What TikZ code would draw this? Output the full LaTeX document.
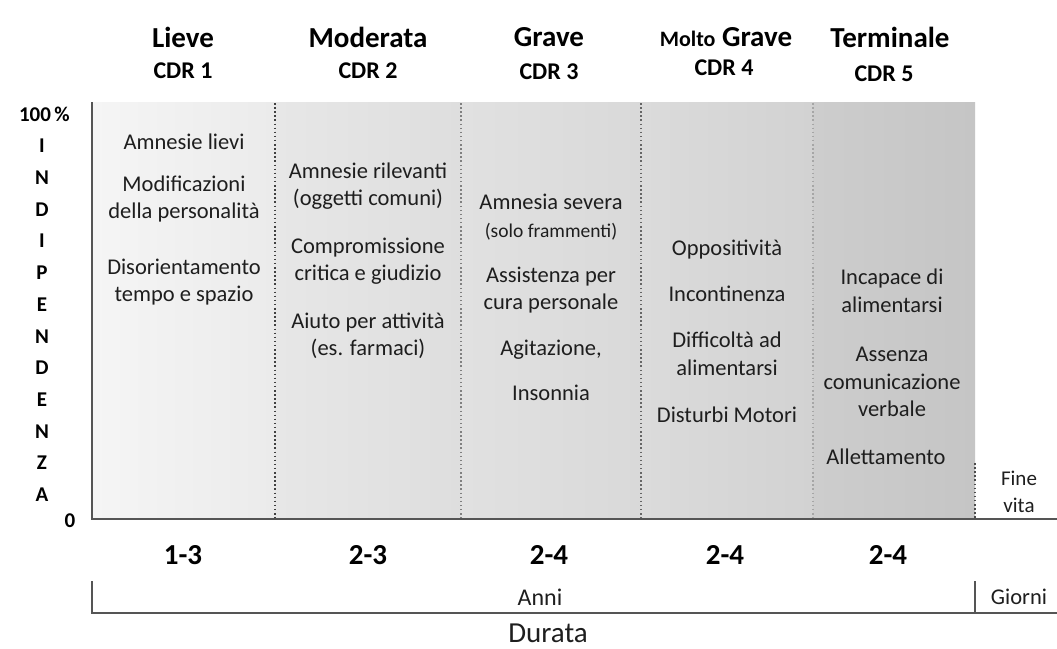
\documentclass[tikz,border=0pt]{standalone}
\usepackage{fontspec}
\setmainfont{Carlito}
\usepackage{tikz}

\definecolor{axisgray}{HTML}{555555}
\definecolor{inkgray}{HTML}{1E1E1E}
\definecolor{fillAl}{HTML}{F5F5F5}
\definecolor{fillAr}{HTML}{EBEBEB}
\definecolor{fillBl}{HTML}{E7E7E7}
\definecolor{fillBr}{HTML}{DEDEDE}
\definecolor{fillCl}{HTML}{E1E1E1}
\definecolor{fillCr}{HTML}{D9D9D9}
\definecolor{fillDl}{HTML}{DBDBDB}
\definecolor{fillDr}{HTML}{D2D2D2}
\definecolor{fillEl}{HTML}{CDCDCD}
\definecolor{fillEr}{HTML}{C5C5C5}

\tikzset{
  symptom/.style={align=center, inner sep=0pt, text=inkgray,
    font=\fontsize{22.5}{27.5}\selectfont},
  stagename/.style={inner sep=0pt, text=black, font=\bfseries\fontsize{29}{32}\selectfont},
  cdrlabel/.style={inner sep=0pt, text=black, font=\bfseries\fontsize{24}{26}\selectfont},
  yearlabel/.style={inner sep=0pt, text=black, font=\bfseries\fontsize{29}{32}\selectfont},
  axisletter/.style={inner sep=0pt, text=black, font=\bfseries\fontsize{21}{22}\selectfont},
  divider/.style={line width=1.5pt, dash pattern=on 1.5pt off 2.6pt}
}

\begin{document}
\begin{tikzpicture}[x=1pt,y=-1pt]
\useasboundingbox[fill=white] (0,0) rectangle (1057,648);

% stages
\shade[left color=fillAl, right color=fillAr] (92,102) rectangle (275,519);
\shade[left color=fillBl, right color=fillBr] (275,102) rectangle (461,519);
\shade[left color=fillCl, right color=fillCr] (461,102) rectangle (641,519);
\shade[left color=fillDl, right color=fillDr] (641,102) rectangle (813,519);
\shade[left color=fillEl, right color=fillEr] (813,102) rectangle (975,519);

\draw[divider, color=black!75] (275,103) -- (275,518);
\draw[divider, color=black!50] (461,103) -- (461,518);
\draw[divider, color=black!60] (641,103) -- (641,518);
\draw[divider, color=black!35] (813,103) -- (813,518);
\draw[divider, color=black!70] (975,463) -- (975,518);

% axes
\draw[axisgray, line width=1.5pt] (92,102) -- (92,519) -- (1057,519);

% headings
\node[stagename] (lieve) at (183,37) {Lieve};
\node[cdrlabel] (cdr1) at (183,71) {CDR 1};
\node[stagename] (moderata) at (368,37) {Moderata};
\node[cdrlabel] (cdr2) at (368,71) {CDR 2};
\node[stagename] (grave) at (549,37) {Grave};
\node[cdrlabel] (cdr3) at (549,72) {CDR 3};
\node[stagename] (moltograve) at (726,37) {{\fontsize{22}{24}\selectfont Molto} Grave};
\node[cdrlabel] (cdr4) at (724,68) {CDR 4};
\node[stagename] (terminale) at (890,37) {Terminale};
\node[cdrlabel] (cdr5) at (884,74) {CDR 5};

% vertical axis
\node[axisletter, anchor=east] (top) at (70,114) {100\,\%};
\foreach \l [count=\i] in {I,N,D,I,P,E,N,D,E,N,Z,A}
  \node[axisletter] (l\i) at (42,{146+(\i-1)*31.7}) {\l};
\node[axisletter] (zero) at (70,521) {0};

% symptoms
\node[symptom] (s11) at (184,142) {Amnesie lievi};
\node[symptom] (s12) at (184,199) {Modificazioni\\della personalità};
\node[symptom] (s13) at (184,282) {Disorientamento\\tempo e spazio};

\node[symptom] (s21) at (368,186) {Amnesie rilevanti\\(oggetti comuni)};
\node[symptom] (s22) at (368,261) {Compromissione\\critica e giudizio};
\node[symptom] (s23) at (368,336) {Aiuto per attività\\(es. farmaci)};

\node[symptom] (s31) at (551,202) {Amnesia severa};
\node[symptom, font=\fontsize{19.5}{22}\selectfont] (s32) at (551,232) {(solo frammenti)};
\node[symptom] (s33) at (551,290) {Assistenza per\\cura personale};
\node[symptom] (s34) at (551,350) {Agitazione,};
\node[symptom] (s35) at (551,393) {Insonnia};

\node[symptom] (s41) at (727,250) {Oppositività};
\node[symptom] (s42) at (727,294) {Incontinenza};
\node[symptom] (s43) at (727,354) {Difficoltà ad\\alimentarsi};
\node[symptom] (s44) at (727,415) {Disturbi Motori};

\node[symptom] (s51) at (892,291) {Incapace di\\alimentarsi};
\node[symptom] (s52) at (892,382) {Assenza\\comunicazione\\verbale};
\node[symptom] (s53) at (886,457) {Allettamento};

\node[symptom, font=\fontsize{21}{27}\selectfont] (finevita) at (1019,492) {Fine\\vita};

% duration
\node[yearlabel] (y1) at (183,555) {1-3};
\node[yearlabel] (y2) at (368,555) {2-3};
\node[yearlabel] (y3) at (549,555) {2-4};
\node[yearlabel] (y4) at (725,555) {2-4};
\node[yearlabel] (y5) at (888,555) {2-4};

\draw[axisgray, line width=1.5pt] (92,581) -- (92,613) -- (1057,613);
\draw[axisgray, line width=1.5pt] (975,581) -- (975,613);
\node[symptom, font=\fontsize{24}{28}\selectfont] (anni) at (540,597) {Anni};
\node[symptom] (giorni) at (1019,597) {Giorni};
\node[symptom, font=\fontsize{29}{32}\selectfont] (durata) at (548,633) {Durata};
\end{tikzpicture}
\end{document}
